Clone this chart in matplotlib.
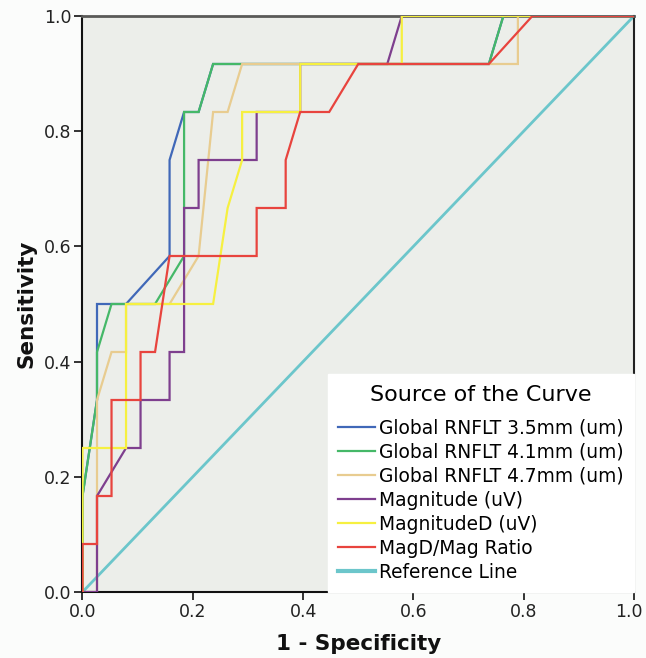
import numpy as np
import matplotlib
matplotlib.use("Agg")
import matplotlib.pyplot as plt
import matplotlib.transforms as mtransforms
from matplotlib.lines import Line2D

# ROC step coordinates, as counts:
# false positives out of 38 negatives, true positives out of 12 positives
N_NEG = 38
N_POS = 12

rnflt35_fp = [0, 0, 1, 1, 3, 6, 6, 7, 8, 9, 28, 29, 38]
rnflt35_tp = [0, 2, 4, 6, 6, 7, 9, 10, 10, 11, 11, 12, 12]

rnflt41_fp = [0, 0, 1, 1, 2, 5, 7, 7, 8, 9, 28, 29, 38]
rnflt41_tp = [0, 2, 4, 5, 6, 6, 7, 10, 10, 11, 11, 12, 12]

rnflt47_fp = [0, 1, 1, 2, 3, 3, 6, 8, 9, 10, 11, 30, 30, 38]
rnflt47_tp = [0, 0, 4, 5, 5, 6, 6, 7, 10, 10, 11, 11, 12, 12]

mag_fp = [0, 1, 1, 3, 4, 4, 6, 6, 7, 7, 8, 8, 12, 12, 15, 15, 21, 22, 38]
mag_tp = [0, 0, 2, 3, 3, 4, 4, 5, 5, 8, 8, 9, 9, 10, 10, 11, 11, 12, 12]

magd_fp = [0, 0, 3, 3, 9, 10, 11, 11, 15, 15, 22, 22, 38]
magd_tp = [0, 3, 3, 6, 6, 8, 9, 10, 10, 11, 11, 12, 12]

ratio_fp = [0, 0, 1, 1, 2, 2, 4, 4, 5, 6, 12, 12, 14, 14, 15, 17, 19, 28, 31, 38]
ratio_tp = [0, 1, 1, 2, 2, 4, 4, 5, 5, 7, 7, 8, 8, 9, 10, 10, 11, 11, 12, 12]

curve_names = ["Global RNFLT 3.5mm (um)", "Global RNFLT 4.1mm (um)",
               "Global RNFLT 4.7mm (um)", "Magnitude (uV)",
               "MagnitudeD (uV)", "MagD/Mag Ratio"]
curve_colors = ["#4068B8", "#45B868", "#E8CC90", "#7E3F8E", "#F6F040", "#E8443E"]
ref_color = "#6CC6CB"

curves = [(rnflt35_fp, rnflt35_tp), (rnflt41_fp, rnflt41_tp),
          (rnflt47_fp, rnflt47_tp), (mag_fp, mag_tp),
          (magd_fp, magd_tp), (ratio_fp, ratio_tp)]

ticks = [0.0, 0.2, 0.4, 0.6, 0.8, 1.0]

fig = plt.figure(figsize=(6.46, 6.58), dpi=100, facecolor="#FBFCFB")
ax = fig.add_axes([0.1277, 0.1003, 0.8537, 0.8754])
ax.set_facecolor("#ECEEEA")

handles = []
for (fp, tp), name, col in zip(curves, curve_names, curve_colors):
    x = np.array(fp) / N_NEG
    y = np.array(tp) / N_POS
    ax.plot(x, y, color=col, lw=1.6, solid_joinstyle="miter", zorder=3)
    handles.append(Line2D([], [], color=col, lw=1.6, label=name))

ax.plot([0, 1], [0, 1], color=ref_color, lw=2.0, zorder=2)
handles.append(Line2D([], [], color=ref_color, lw=3.0, label="Reference Line"))

ax.set_xlim(0, 1)
ax.set_ylim(0, 1)
ax.set_xticks(ticks)
ax.set_yticks(ticks)
ax.set_xticklabels(["%.1f" % t for t in ticks], fontsize=12.5, color="#222222")
ax.set_yticklabels(["%.1f" % t for t in ticks], fontsize=12.5, color="#222222")
ax.tick_params(direction="out", length=6, width=1.2, color="#111111", pad=2)

# nudge the last x tick label so it stays inside the figure
last = ax.get_xticklabels()[-1]
last.set_transform(last.get_transform() +
                   mtransforms.ScaledTranslation(-5 / 100, 0, fig.dpi_scale_trans))

for side in ["left", "bottom"]:
    ax.spines[side].set_color("#111111")
    ax.spines[side].set_linewidth(1.5)
ax.spines["top"].set_color("#5A5A58")
ax.spines["top"].set_linewidth(2.0)
ax.spines["right"].set_color("#222222")
ax.spines["right"].set_linewidth(1.5)

label_font = dict(fontweight="bold", fontsize=15.5, color="#111111")
ax.set_xlabel("1 - Specificity", labelpad=9, **label_font)
ax.set_ylabel("Sensitivity", labelpad=5, **label_font)

leg = ax.legend(handles=handles, loc="lower right", bbox_to_anchor=(1.0, 0.0),
                title="Source of the Curve", fontsize=13.4, title_fontsize=16,
                frameon=True, fancybox=False, borderaxespad=0.0,
                handlelength=2.0, handletextpad=0.2, labelspacing=0.27,
                borderpad=0.55)
leg.get_frame().set_facecolor("white")
leg.get_frame().set_edgecolor("white")
leg.get_frame().set_alpha(1.0)
leg.set_zorder(5)
leg._legend_box.sep = 10

fig.savefig("out.png", dpi=100, facecolor=fig.get_facecolor())
